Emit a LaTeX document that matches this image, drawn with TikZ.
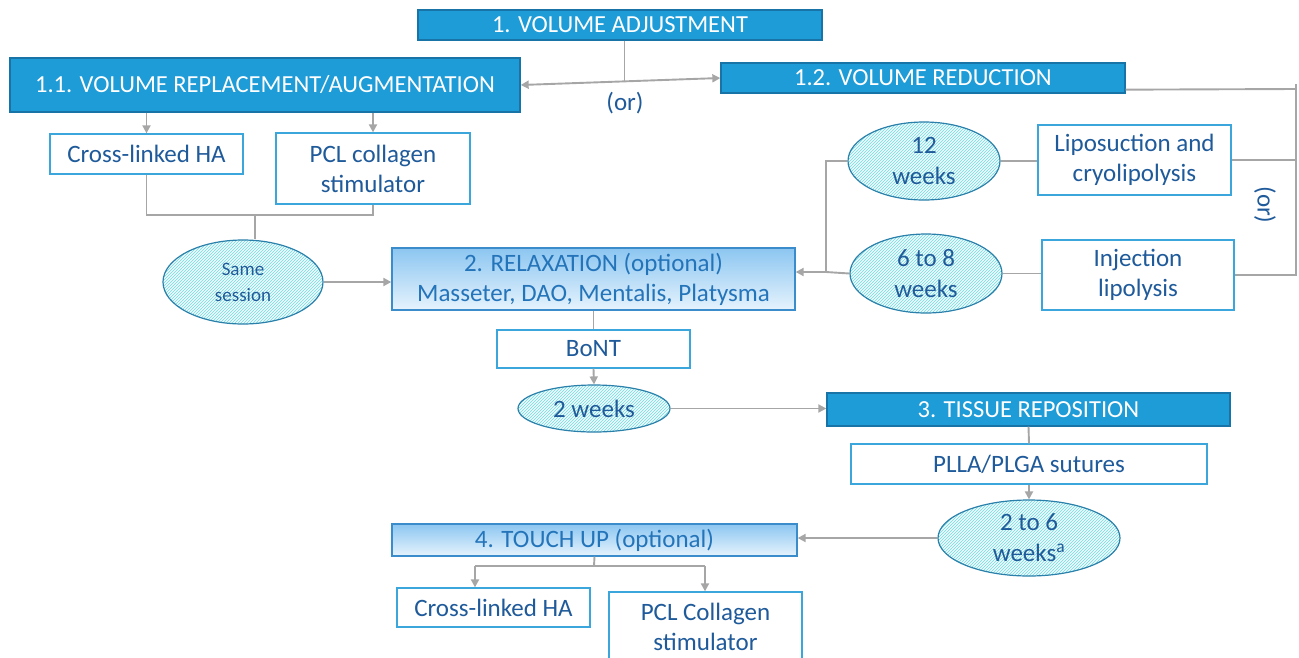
\documentclass[tikz,border=0pt]{standalone}
\usepackage{fontspec}
\setmainfont{Carlito}
\usetikzlibrary{arrows.meta,patterns,shapes.geometric,calc}
\definecolor{hdr}{HTML}{1E9CD8}
\definecolor{hdrb}{HTML}{1874A6}
\definecolor{txt}{HTML}{1F5A9A}
\definecolor{gtxt}{HTML}{2474BA}
\definecolor{bord}{HTML}{3AA6DC}
\definecolor{gbord}{HTML}{3A8CCB}
\definecolor{ln}{HTML}{A6A6A6}
\definecolor{hatch}{HTML}{6EDCDC}
\definecolor{ellb}{HTML}{2A80AA}
\definecolor{gtop}{HTML}{8CC6F1}
\definecolor{gbot}{HTML}{E6F3FD}
\begin{document}
\begin{tikzpicture}[x=1pt,y=-1pt,
  sz/.style 2 args={minimum width=#1pt, minimum height=#2pt},
  hdrbox/.style={draw=hdrb, fill=hdr, text=white, line width=1.3pt, inner sep=0pt, font=\fontsize{24.5}{28}\selectfont},
  wbox/.style={draw=bord, fill=white, text=txt, line width=1.3pt, inner sep=0pt, align=center, font=\fontsize{25}{30}\selectfont},
  gbox/.style={draw=gbord, top color=gtop, bottom color=gbot, text=gtxt, line width=1.3pt, inner sep=0pt, align=center, font=\fontsize{25}{30}\selectfont},
  ell/.style={ellipse, draw=ellb, line width=1.2pt, preaction={fill=cyan!6}, pattern=north east lines, pattern color=hatch, inner sep=0pt, align=center, text=txt, font=\fontsize{25}{31}\selectfont},
  conn/.style={draw=ln, line width=1.9pt},
  arr/.style={conn, -{Triangle[length=8pt,width=8pt]}},
  lbl/.style={text=txt, font=\fontsize{25}{28}\selectfont, inner sep=0pt}
]
\useasboundingbox (0,0) rectangle (1299,657);

% header boxes
\node[hdrbox, sz={404}{30}] (adj) at (620,25) {1. VOLUME ADJUSTMENT};
\node[hdrbox, sz={510}{54}] (rep) at (265,85) {1.1. VOLUME REPLACEMENT/AUGMENTATION};
\node[hdrbox, sz={404}{30}] (red) at (923,78) {1.2. VOLUME REDUCTION};
\node[hdrbox, sz={403}{33}] (tis) at (1028.5,409.5) {3. TISSUE REPOSITION};

% white boxes
\node[wbox, sz={193}{40}] (chx) at (146.5,154) {Cross-linked HA};
\node[wbox, sz={194}{71}] (pcl) at (373,168.5) {PCL collagen\\stimulator};
\node[wbox, sz={193}{70}] (lipo) at (1134.5,160) {Liposuction and\\cryolipolysis};
\node[wbox, sz={192}{70}] (inj) at (1138,275) {Injection\\lipolysis};
\node[wbox, sz={193}{38}] (bont) at (593.5,349) {BoNT};
\node[wbox, sz={356}{40}] (plla) at (1029,464) {PLLA/PLGA sutures};
\node[wbox, sz={193}{39}] (chx2) at (493.5,607.5) {Cross-linked HA};
\node[wbox, sz={193}{70}] (pcl2) at (705.5,627) {PCL Collagen\\stimulator};

% gradient boxes
\node[gbox, sz={403}{62}] (relax) at (593.5,279) {2. RELAXATION (optional)\\Masseter, DAO, Mentalis, Platysma};
\node[gbox, sz={405}{32}] (touch) at (594.5,540) {4. TOUCH UP (optional)};

% ellipses
\node[ell, sz={160}{84}, font=\fontsize{19}{26}\selectfont] (same) at (243,282) {Same\\session};
\node[ell, sz={152}{78}] (w12) at (924,161) {12\\weeks};
\node[ell, sz={152}{79}] (w68) at (926,273.5) {6 to 8\\weeks};
\node[ell, sz={152}{47}] (w2) at (594,408.5) {2 weeks};
\node[ell, sz={182}{76}] (w26) at (1029,538) {2 to 6\\weeks\textsuperscript{a}};

% labels
\node[lbl] (or1) at (625,103) {(or)};
\node[lbl, rotate=-90] (or2) at (1265,205) {(or)};

% connectors: volume adjustment
\coordinate (mid) at ($(rep.east)!0.52!(red.west)$);
\draw[conn] (adj.south -| mid) -- (mid);
\draw[conn, {Triangle[length=8pt,width=8pt]}-{Triangle[length=8pt,width=8pt]}] (rep.east) -- (red.west);

\draw[arr] (rep.south -| chx.north) -- (chx.north);
\draw[arr] (rep.south -| pcl.north) -- (pcl.north);

\coordinate (j) at (255,215);
\draw[conn] (chx.south) |- (j) -| (pcl.south);
\draw[conn] (j) -- (j |- same.north);
\draw[arr] (same.east) -- (relax.west |- same.east);

% volume reduction side
\coordinate (k) at (826,272);
\draw[conn] (w12.west) -| (k);
\draw[conn] (w68.west) -- (k);
\draw[arr] (k) -- (relax.east |- k);
\draw[conn] (w12.east) -- (lipo.west |- w12.east);
\draw[conn] (w68.east) -- (inj.west |- w68.east);

\coordinate (rt) at (1296,84);
\coordinate (rb) at (1296,276);
\draw[conn] (rt) -- (rb);
\draw[conn] ($(red.south east)+(0,-4)$) -- (rt |- 0,89);
\draw[conn] (lipo.east) -- (lipo.east -| rt);
\draw[conn] (inj.east) -- (inj.east -| rt);

% middle chain
\draw[conn] (relax.south) -- (bont.north);
\draw[arr] (bont.south) -- (w2.north);
\draw[arr] (w2.east) -- (tis.west |- w2.east);
\draw[conn] (tis.south) -- (plla.north);
\draw[arr] (plla.south) -- (w26.north);
\draw[arr] (w26.west) -- (touch.east |- w26.west);

% touch up branches
\coordinate (t) at (594,566);
\coordinate (tl) at (475,566);
\coordinate (tr) at (705,566);
\draw[conn] (touch.south) -- (t);
\draw[conn] (tl) -- (tr);
\draw[arr] (tl) -- (tl |- chx2.north);
\draw[arr] (tr) -- (tr |- pcl2.north);
\end{tikzpicture}
\end{document}
